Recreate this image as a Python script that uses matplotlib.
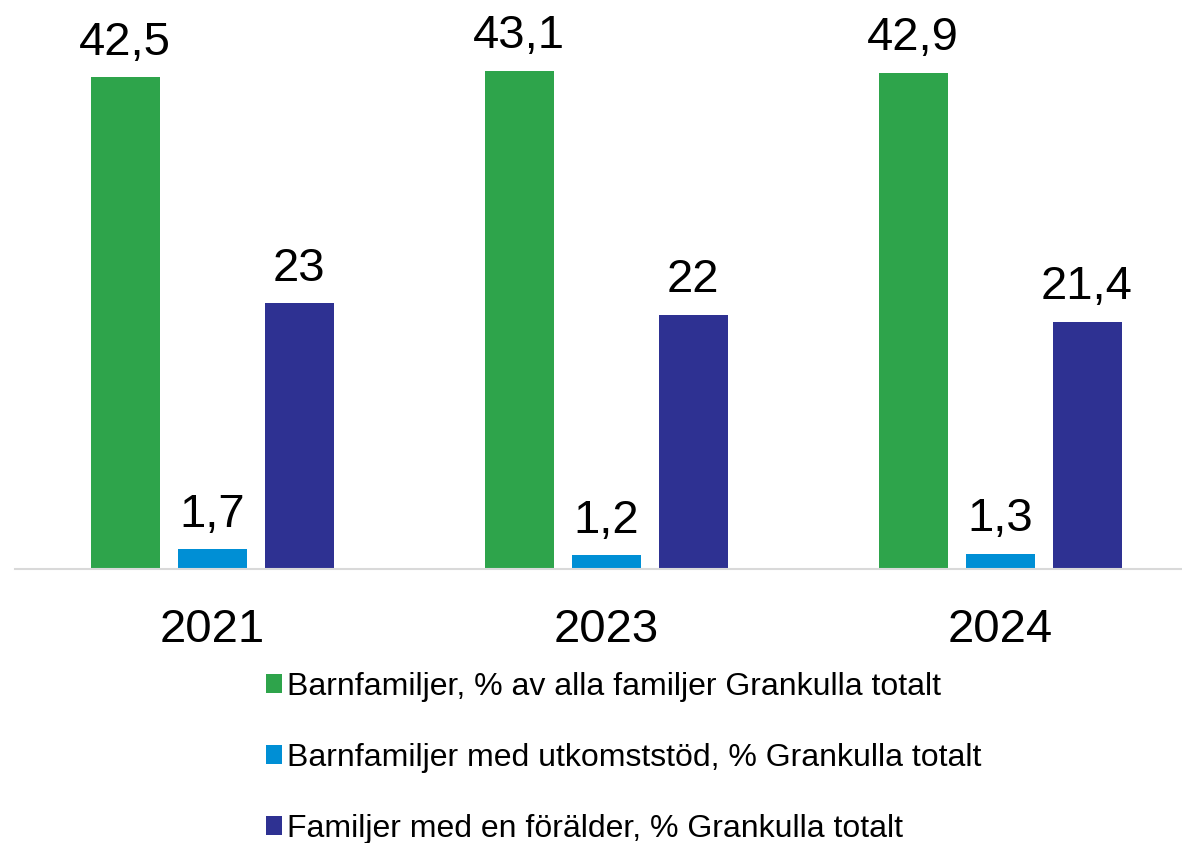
import numpy as np
import matplotlib.pyplot as plt
from matplotlib.patches import Patch

plt.rcParams['font.family'] = ['Liberation Sans', 'DejaVu Sans']

years = ['2021', '2023', '2024']
series = [
    'Barnfamiljer, % av alla familjer Grankulla totalt',
    'Barnfamiljer med utkomststöd, % Grankulla totalt',
    'Familjer med en förälder, % Grankulla totalt',
]
barnfamiljer = [42.5, 43.1, 42.9]
utkomststod = [1.7, 1.2, 1.3]
en_foralder = [23, 22, 21.4]
colors = ['#2ea44b', '#008fd5', '#2e3192']

def fmt(v):
    s = ('%g' % v).replace('.', ',')
    return s

fig = plt.figure(figsize=(11.82, 8.43), dpi=100)
ax = fig.add_axes([15 / 1182, 1 - 569 / 843, 1 - 15 / 1182, 569 / 843])

x = np.arange(len(years))
w = 69 / 394
step = 87 / 394
for i, (vals, c) in enumerate(zip([barnfamiljer, utkomststod, en_foralder], colors)):
    pos = x + (i - 1) * step
    ax.bar(pos, vals, width=w, color=c)
    for p, v in zip(pos, vals):
        ax.annotate(fmt(v), (p, v), xytext=(0, 9), textcoords='offset points',
                    ha='center', va='bottom', fontsize=34)

ax.set_xlim(-0.5, 2.5 - 15 / 394)
ax.set_ylim(0, 49.2)
ax.set_yticks([])
ax.set_xticks(x)
ax.set_xticklabels(years, fontsize=34)
ax.tick_params(axis='x', length=0, pad=28)
for s in ['top', 'right', 'left']:
    ax.spines[s].set_visible(False)
ax.spines['bottom'].set_color('#d9d9d9')
ax.spines['bottom'].set_linewidth(1.5)

handles = [Patch(facecolor=c) for c in colors]
fig.legend(handles, series, loc='upper left', bbox_to_anchor=(253 / 1182, 1 - 659 / 843),
           frameon=False, fontsize=23, handlelength=0.52, handleheight=0.52,
           handletextpad=0.15, labelspacing=1.28, borderaxespad=0)

fig.savefig('out.png', dpi=100)
